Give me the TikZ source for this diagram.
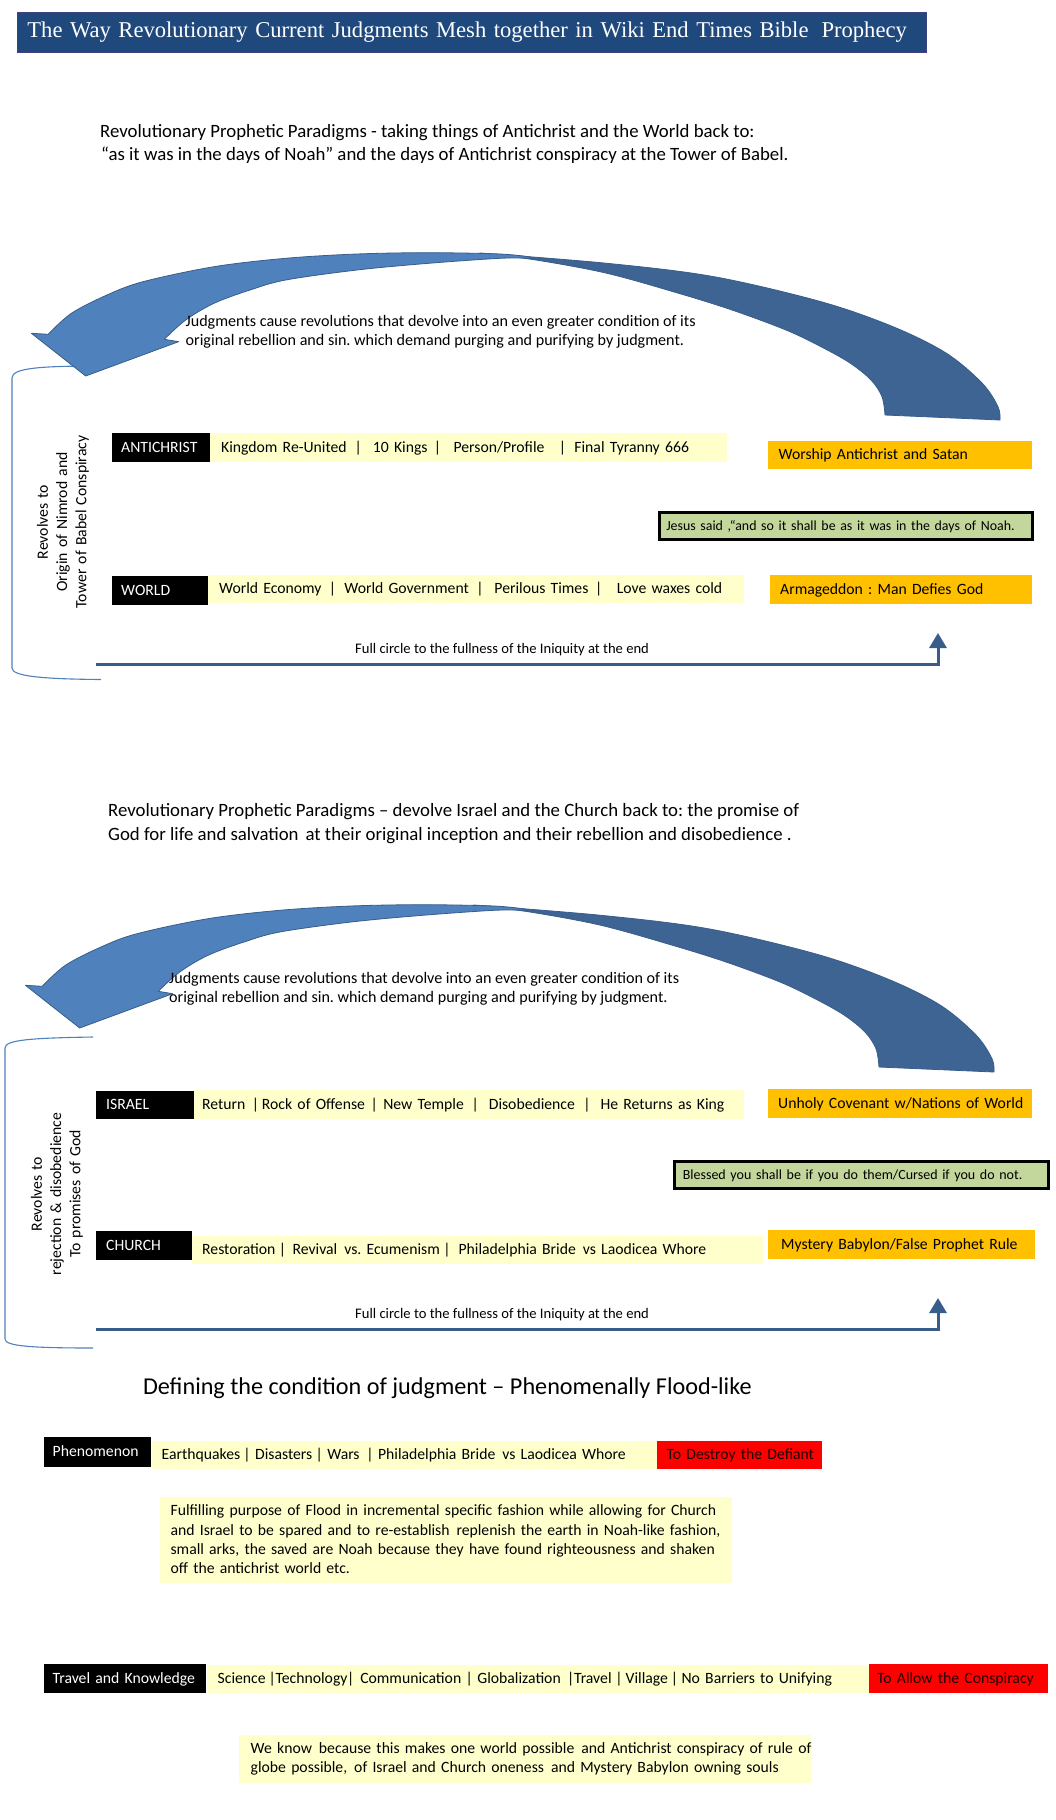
\documentclass[tikz,border=0pt]{standalone}
\usepackage{fontspec}
\setmainfont{Carlito}
\newfontfamily\titlefont{Liberation Serif}
\usetikzlibrary{arrows.meta}
\frenchspacing
\definecolor{cTitle}{RGB}{31,73,125}
\definecolor{cTitleB}{RGB}{64,64,128}
\definecolor{cYel}{RGB}{255,255,204}
\definecolor{cOrg}{RGB}{255,192,0}
\definecolor{cGrn}{RGB}{195,214,155}
\definecolor{cLight}{RGB}{79,129,189}
\definecolor{cDark}{RGB}{62,100,148}
\definecolor{cEdge}{RGB}{56,93,138}
\definecolor{cLine}{RGB}{56,93,138}
\definecolor{cRed}{RGB}{255,0,0}
\definecolor{cRedTxt}{RGB}{30,0,0}
\newcommand\fbody{\fontsize{15.7pt}{19.2pt}\selectfont}
\newcommand\fjudg{\fontsize{16.1pt}{19.2pt}\selectfont}
\newcommand\fsmall{\fontsize{14.6pt}{17pt}\selectfont}
\newcommand\fhead{\fontsize{18.8pt}{23pt}\selectfont}
\newcommand\fbig{\fontsize{22.6pt}{27pt}\selectfont}
\newcommand\fhuge{\fontsize{24.2pt}{29pt}\selectfont}
\newcommand\vb[2]{\hspace*{#1pt}\makebox[0pt]{|}\hspace*{#2pt}}
\newcommand\dsp{\hspace*{7pt}}
\newcommand\judgearrow{%
 \filldraw[fill=cDark, draw=cEdge, line width=0.8pt, line join=round]
  plot[smooth, tension=0.55] coordinates {(480,253) (607,263.3) (714,276.7) (821,301.7) (893,326.7) (946,353) (982,383) (998,406.7) (1000,420)}
  -- (885,415)
  -- plot[smooth, tension=0.55] coordinates {(885,415) (882,396.7) (871,380) (850,363) (821,346.7) (786,330) (732,310) (678.6,293.3) (607,273.3) (536,260) (480,253)}
  -- cycle;
 \filldraw[fill=cLight, draw=cEdge, line width=0.8pt, line join=round]
  plot[smooth, tension=0.55] coordinates {(48.2,334.3) (71.4,313.3) (107,295) (143,281.7) (214,266.7) (285.7,258.3) (357,254) (428.6,252.7) (500,254) (530,257)}
  -- plot[smooth, tension=0.55] coordinates {(530,258.3) (500,258.3) (428.6,263.3) (357,270) (285.7,280) (250,290) (214,303.3) (185.7,320) (164.3,339.3)}
  -- (178.6,341.7) -- (85.7,376) -- (31.4,333.3) -- cycle;
}
\begin{document}
\begin{tikzpicture}[x=1pt,y=-1pt,
  bx/.style={anchor=north west, inner ysep=0pt, text height=12pt, text depth=3pt, align=left, font=\fbody},
  blk/.style={bx, fill=black, text=white},
  ybar/.style={bx, fill=cYel},
  obox/.style={bx, fill=cOrg},
  rbox/.style={bx, fill=cRed, text=cRedTxt},
  gbox/.style={bx, fill=cGrn, draw=black, line width=2.5pt},
  plain/.style={anchor=base west, inner sep=0pt},
  brk/.style={draw=cLight, line width=1.1pt},
  fcline/.style={draw=cLine, line width=3pt, -{Triangle[length=15pt,width=17pt]}},
  rot/.style={rotate=90, align=center, text width=240pt, font=\fbody, inner sep=0pt}
]
\fill[white] (0,0) rectangle (1056,1820);
\useasboundingbox (0,0) rectangle (1056,1820);

% title
\node[anchor=north west, minimum height=40pt, fill=cTitle, draw=cTitleB, line width=0.8pt,
  text=white, font=\titlefont\fbig, inner xsep=10pt, inner ysep=0pt, text width=889pt,
  text height=16pt, text depth=5pt, align=left] (title) at (17,12)
  {\mbox{The Way Revolutionary Current Judgments Mesh together in Wiki End Times Bible\hspace*{13pt}Prophecy}};

% ===== section 1 =====
\node[plain, font=\fhead] (h1a) at (100,137) {Revolutionary Prophetic Paradigms - taking things of Antichrist and the World back to:};
\node[plain, font=\fhead] (h1b) at (101,160) {“as it was in the days of Noah” and the days of Antichrist conspiracy at the Tower of Babel.};

\draw[brk] (100,366) .. controls (40,366) and (12,368) .. (12,378) -- (12,668) .. controls (12,676) and (40,679) .. (101,679.5);
\judgearrow
\node[plain, font=\fjudg] (j1a) at (185.5,326) {Judgments cause revolutions that devolve into an even greater condition of its};
\node[plain, font=\fjudg] (j1b) at (185.5,345) {original rebellion and sin. which demand purging and purifying by judgment.};

\node[rot] (rot1) at (63,522) {Revolves to\\Origin of Nimrod and\\Tower of Babel Conspiracy};

\node[blk, minimum height=29pt, inner xsep=9pt, text width=80pt] (ac) at (112,433) {\mbox{ANTICHRIST}};
\node[ybar, minimum height=29pt, inner xsep=11pt, text width=495pt] (acbar) at (210,433) {\mbox{Kingdom Re-United\vb{11.5}{14.7}10 Kings\vb{10}{16}Person/Profile\vb{18}{12}Final Tyranny 666}};
\node[obox, minimum height=28pt, inner xsep=10.5pt, text width=243pt] (worship) at (768,441) {\mbox{Worship Antichrist and Satan}};
\node[gbox, minimum height=27pt, inner xsep=7pt, text width=359pt, font=\fontsize{13.9pt}{16pt}\selectfont] (jesus) at (658,511) {\mbox{Jesus said ,“and so it shall be as it was in the days of Noah.}};
\node[blk, minimum height=29pt, inner xsep=9pt, text width=78pt] (world) at (112,576) {\mbox{WORLD}};
\node[ybar, minimum height=28pt, inner xsep=11pt, text width=514pt] (wbar) at (208,575) {\mbox{World Economy\vb{11}{12}World Government\vb{11}{14.6}Perilous Times\vb{10.4}{18}Love waxes cold}};
\node[obox, minimum height=29pt, inner xsep=10pt, text width=242pt] (arma) at (770,575) {\mbox{Armageddon : Man Defies God}};

\coordinate (fc1s) at (96,664);
\coordinate (fc1e) at (938,633);
\draw[fcline] (fc1s) -| (fc1e);
\node[plain, font=\fsmall] (fc1lab) at (355,653) {Full circle to the fullness of the Iniquity at the end};

% ===== section 2 =====
\node[plain, font=\fhead] (h2a) at (108,816.7) {Revolutionary Prophetic Paradigms – devolve Israel and the Church back to: the promise of};
\node[plain, font=\fhead] (h2b) at (108,840) {God for life and salvation\dsp at their original inception and their rebellion and disobedience .};

\draw[brk] (93,1037) .. controls (30,1038) and (5,1040) .. (5,1048) -- (5,1339) .. controls (5,1346) and (30,1348) .. (93,1348);
\begin{scope}[shift={(-6,652)}]
\judgearrow
\end{scope}
\node[plain, font=\fjudg] (j2a) at (169,983.5) {Judgments cause revolutions that devolve into an even greater condition of its};
\node[plain, font=\fjudg] (j2b) at (169,1002.5) {original rebellion and sin. which demand purging and purifying by judgment.};

\node[rot] (rot2) at (57,1194) {Revolves to\\rejection \& disobedience\\To promises of God};

\node[blk, minimum height=28pt, inner xsep=10pt, text width=78pt] (israel) at (96,1091) {\mbox{ISRAEL}};
\node[ybar, minimum height=29pt, inner xsep=8pt, text width=534pt] (ibar) at (194,1090) {\mbox{Return\vb{10}{6.6}Rock of Offense\vb{9.3}{9}New Temple\vb{11.4}{13.6}Disobedience\vb{12}{13.7}He Returns as King}};
\node[obox, minimum height=29pt, inner xsep=10pt, text width=244pt] (unholy) at (768,1089) {\mbox{Unholy Covenant w/Nations of World}};
\node[gbox, minimum height=27pt, inner xsep=8.5pt, text width=357pt, font=\fontsize{14pt}{17pt}\selectfont] (blessed) at (673,1160) {\mbox{Blessed you shall be if you do them/Cursed if you do not.}};
\node[blk, minimum height=29pt, inner xsep=10pt, text width=76pt] (church) at (96,1231) {\mbox{CHURCH}};
\node[ybar, minimum height=28pt, inner xsep=10pt, text width=551pt] (cbar) at (192,1236) {\mbox{Restoration\vb{7.2}{10}Revival\dsp vs. Ecumenism\vb{7.2}{11.6}Philadelphia Bride\dsp vs Laodicea Whore}};
\node[obox, minimum height=29pt, inner xsep=13pt, text width=241pt] (mystery) at (768,1230) {\mbox{Mystery Babylon/False Prophet Rule}};

\coordinate (fc2s) at (96,1329);
\coordinate (fc2e) at (938,1298);
\draw[fcline] (fc2s) -| (fc2e);
\node[plain, font=\fsmall] (fc2lab) at (355,1318) {Full circle to the fullness of the Iniquity at the end};

% ===== section 3 =====
\node[plain, font=\fhuge] (h3) at (142.8,1394.3) {Defining the condition of judgment – Phenomenally Flood-like};

\node[blk, minimum height=30pt, inner xsep=8.5pt, text width=90pt] (phen) at (44,1437) {\mbox{Phenomenon}};
\node[ybar, minimum height=28pt, inner xsep=9.5pt, text width=486pt] (pbar) at (152,1441) {\mbox{Earthquakes\vb{6.8}{8.2}Disasters\vb{7}{8}Wars\vb{10.4}{8.1}Philadelphia Bride\dsp vs Laodicea Whore}};
\node[rbox, minimum height=28pt, inner xsep=9.5pt, text width=146pt] (destroy) at (657,1441) {\mbox{To Destroy the Defiant}};

\node[anchor=north west, fill=cYel, minimum width=572pt, minimum height=86pt, inner sep=0pt] (para1box) at (160,1497) {};
\node[anchor=north west, inner sep=0pt, text width=600pt, align=left, font=\fbody] (para1) at (170.4,1502.7)
 {\rule{0pt}{13pt}Fulfilling purpose of Flood in incremental specific fashion while allowing for Church\\
  and Israel to be spared and to re-establish\dsp replenish the earth in Noah-like fashion,\\
  small arks, the saved are Noah because they have found righteousness and shaken\\
  off the antichrist world etc.};

% ===== section 4 =====
\node[blk, minimum height=29pt, inner xsep=8.5pt, text width=145pt] (travel) at (44,1664) {\mbox{Travel and Knowledge}};
\node[ybar, minimum height=28pt, inner xsep=10.5pt, text width=641pt] (tbar) at (207,1665) {\mbox{Science\vb{6.7}{3.3}Technology\vb{3.2}{9.6}Communication\vb{8.1}{8.1}Globalization\vb{10.1}{3.3}Travel\vb{7.5}{6.6}Village\vb{6.6}{7}No Barriers to Unifying}};
\node[rbox, minimum height=29pt, inner xsep=8pt, text width=163pt] (allow) at (869,1664) {\mbox{To Allow the Conspiracy}};

\node[anchor=north west, fill=cYel, minimum width=572pt, minimum height=48pt, inner sep=0pt] (para2box) at (239,1735) {};
\node[anchor=north west, inner sep=0pt, text width=600pt, align=left, font=\fbody] (para2) at (250.5,1740.3)
 {\rule{0pt}{13pt}We know\dsp because this makes one world possible\dsp and Antichrist conspiracy of rule of\\
  globe possible,\dsp of Israel and Church oneness\dsp and Mystery Babylon owning souls};
\end{tikzpicture}
\end{document}
